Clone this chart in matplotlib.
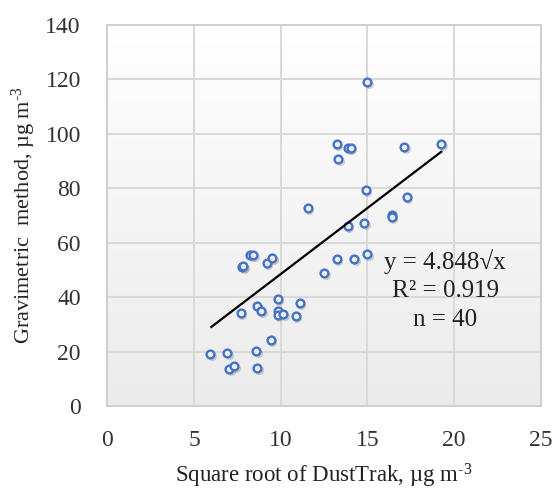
import numpy as np
import matplotlib
matplotlib.use("Agg")
import matplotlib.pyplot as plt
import matplotlib.transforms as mtransforms
from matplotlib.colors import LinearSegmentedColormap

# Data
sqrt_dusttrak = [14.98, 13.24, 13.90, 14.04, 17.12, 19.26, 13.33, 14.91, 17.28, 11.56,
                 16.39, 16.39, 13.87, 14.81,
                 8.23, 8.42, 7.77, 7.85, 9.20, 9.52, 12.50, 13.24, 14.25, 14.98,
                 9.83, 11.10, 7.69, 8.64, 8.89, 9.83, 9.83, 10.16, 10.87,
                 9.43, 5.94, 6.91, 8.58, 7.04, 7.31, 8.64]
gravimetric = [118.9, 96.3, 94.9, 94.9, 95.2, 96.3, 90.7, 79.2, 76.7, 72.6,
               70.2, 69.5, 66.0, 67.1,
               55.4, 55.4, 51.0, 51.4, 52.4, 54.5, 48.9, 53.9, 53.9, 56.0,
               39.2, 37.9, 34.3, 36.9, 34.8, 35.0, 33.4, 33.8, 33.2,
               24.2, 19.2, 19.6, 20.1, 13.7, 14.8, 14.1]
slope = 4.848
trend_x = [6.0, 19.26]
annotation = ["y = 4.848\u221ax", "R\u00b2 = 0.919", "n = 40"]
xticks = [0, 5, 10, 15, 20, 25]
yticks = [0, 20, 40, 60, 80, 100, 120, 140]

plt.rcParams['font.family'] = ['Liberation Serif', 'DejaVu Serif']
plt.rcParams['mathtext.fontset'] = 'custom'
plt.rcParams['mathtext.rm'] = 'Liberation Serif'
plt.rcParams['mathtext.it'] = 'Liberation Serif:italic'
plt.rcParams['mathtext.bf'] = 'Liberation Serif:bold'

fig = plt.figure(figsize=(5.53, 4.92), dpi=100)
ax = fig.add_axes([0.194, 0.1744, 0.784, 0.7754])

ax.set_xlim(0, 25)
ax.set_ylim(0, 140)

# gradient background
grad = np.linspace(0, 1, 256).reshape(-1, 1)
cmap = LinearSegmentedColormap.from_list("bg", ["#ebebeb", "#ffffff"])
ax.imshow(grad, extent=[0, 25, 0, 140], origin="lower", aspect="auto",
          cmap=cmap, zorder=0)

ax.set_xticks(xticks)
ax.set_yticks(yticks)
ax.grid(True, color="#d9d9d9", linewidth=1.4, zorder=1)
ax.set_axisbelow(True)
for s in ax.spines.values():
    s.set_color("#cfcfcf")
    s.set_linewidth(1.4)
ax.tick_params(length=0, labelsize=17, colors="#333333")
ax.tick_params(axis="x", pad=17)
ax.tick_params(axis="y", pad=19)

# shadow of markers
shadow = mtransforms.offset_copy(ax.transData, fig=fig, x=1.5, y=-2.0, units="dots")
ax.plot(sqrt_dusttrak, gravimetric, "o", transform=shadow, markersize=6.5,
        markerfacecolor="#7f7f7f", markeredgecolor="none", alpha=0.35, zorder=2)
ax.plot(sqrt_dusttrak, gravimetric, "o", markersize=5.6, markerfacecolor="#eaf0f8",
        markeredgecolor="#4472C4", markeredgewidth=1.7, zorder=3)

tx = np.array(trend_x)
ax.plot(tx, slope * tx, color="black", linewidth=1.6, zorder=4)

for i, t in enumerate(annotation):
    ax.text(0.779, 0.378 - i * 0.076, t, transform=ax.transAxes, fontsize=18,
            ha="center", va="center", color="#222222", zorder=5)

ax.set_xlabel("Square root of DustTrak, \u00b5g m$^{\\text{-3}}$", fontsize=16.5,
              labelpad=8, color="#222222")
ax.set_ylabel("Gravimetric  method, \u00b5g m$^{\\text{-3}}$", fontsize=16,
              labelpad=5, color="#222222")

fig.savefig("out.png", dpi=100)
